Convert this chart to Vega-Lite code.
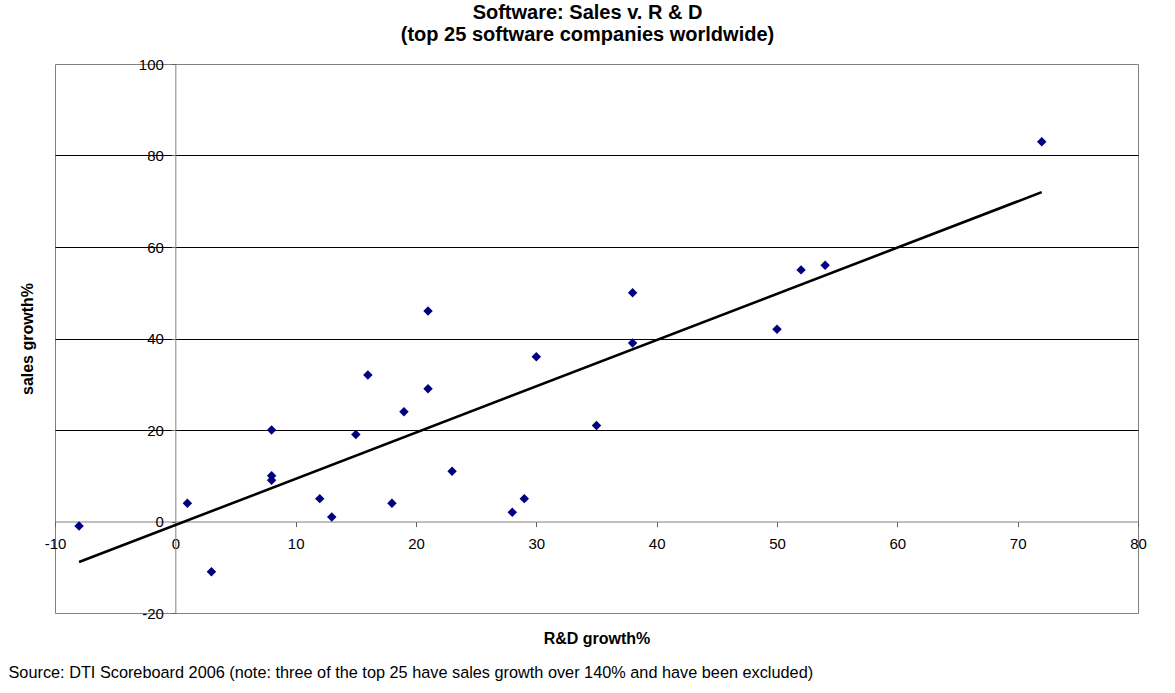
{
  "$schema": "https://vega.github.io/schema/vega-lite/v6.json",
  "width": 1083,
  "height": 549,
  "autosize": "none",
  "padding": {"left": 55, "top": 64, "right": 37, "bottom": 80},
  "background": "white",
  "config": {
    "view": {"stroke": "#808080", "strokeWidth": 1},
    "font": "Liberation Sans"
  },
  "title": {
    "text": ["Software: Sales v. R & D", "(top 25 software companies worldwide)"],
    "font": "Liberation Sans",
    "fontSize": 20,
    "fontWeight": "bold",
    "color": "black",
    "anchor": "middle",
    "frame": "group",
    "dx": -9,
    "lineHeight": 22,
    "offset": 12
  },
  "data": {
    "values": [
      {"rd": -8, "sales": -1},
      {"rd": 1, "sales": 4},
      {"rd": 3, "sales": -11},
      {"rd": 8, "sales": 20},
      {"rd": 8, "sales": 10},
      {"rd": 8, "sales": 9},
      {"rd": 12, "sales": 5},
      {"rd": 13, "sales": 1},
      {"rd": 15, "sales": 19},
      {"rd": 16, "sales": 32},
      {"rd": 18, "sales": 4},
      {"rd": 19, "sales": 24},
      {"rd": 21, "sales": 46},
      {"rd": 21, "sales": 29},
      {"rd": 23, "sales": 11},
      {"rd": 28, "sales": 2},
      {"rd": 29, "sales": 5},
      {"rd": 30, "sales": 36},
      {"rd": 35, "sales": 21},
      {"rd": 38, "sales": 50},
      {"rd": 38, "sales": 39},
      {"rd": 50, "sales": 42},
      {"rd": 52, "sales": 55},
      {"rd": 54, "sales": 56},
      {"rd": 72, "sales": 83}
    ]
  },
  "layer": [
    {
      "mark": {"type": "point", "shape": "diamond", "filled": true, "size": 90, "color": "#000080", "opacity": 1},
      "encoding": {
        "x": {
          "field": "rd",
          "type": "quantitative",
          "scale": {"domain": [-10, 80], "nice": false, "zero": false},
          "axis": {
            "values": [-10, 0, 10, 20, 30, 40, 50, 60, 70, 80],
            "labelExpr": "'' + datum.value",
            "offset": -91.5,
            "grid": false,
            "domainColor": "#808080",
            "domainWidth": 1,
            "tickColor": "#606060",
            "tickSize": 5,
            "labelFont": "Liberation Sans",
            "labelFontSize": 15,
            "labelColor": "black",
            "labelPadding": 10,
            "labelFlush": false,
            "labelOverlap": false,
            "title": "R&D growth%",
            "titleFont": "Liberation Sans",
            "titleFontSize": 16,
            "titleFontWeight": "bold",
            "titleColor": "black",
            "titleBaseline": "middle",
            "titleY": 117
          }
        },
        "y": {
          "field": "sales",
          "type": "quantitative",
          "scale": {"domain": [-20, 100], "nice": false, "zero": false},
          "axis": {
            "values": [-20, 0, 20, 40, 60, 80, 100],
            "labelExpr": "'' + datum.value",
            "offset": -120.33,
            "grid": true,
            "gridColor": {"condition": {"test": "datum.value === 20 || datum.value === 40 || datum.value === 60 || datum.value === 80", "value": "black"}, "value": "transparent"},
            "gridWidth": 1,
            "domainColor": "#808080",
            "domainWidth": 1,
            "tickColor": "#606060",
            "tickSize": 4,
            "labelFont": "Liberation Sans",
            "labelFontSize": 15,
            "labelColor": "black",
            "labelPadding": 8,
            "labelFlush": false,
            "labelOverlap": false,
            "title": "sales growth%",
            "titleFont": "Liberation Sans",
            "titleFontSize": 16,
            "titleFontWeight": "bold",
            "titleColor": "black",
            "titleAngle": -90,
            "titleBaseline": "middle",
            "titleAlign": "center",
            "titleX": -148.3,
            "titleY": 274.5
          }
        }
      }
    },
    {
      "transform": [{"regression": "sales", "on": "rd"}],
      "mark": {"type": "line", "color": "black", "strokeWidth": 2.6},
      "encoding": {
        "x": {
          "field": "rd",
          "type": "quantitative",
          "axis": {
            "orient": "bottom",
            "labels": false,
            "ticks": false,
            "domain": false,
            "grid": false,
            "title": "Source: DTI Scoreboard 2006 (note: three of the top 25 have sales growth over 140% and have been excluded)",
            "titleFont": "Liberation Sans",
            "titleFontSize": 16.3,
            "titleFontWeight": "normal",
            "titleColor": "black",
            "titleAlign": "left",
            "titleBaseline": "middle",
            "titleX": -47,
            "titleY": 59
          }
        },
        "y": {"field": "sales", "type": "quantitative", "axis": null}
      }
    }
  ],
  "resolve": {"axis": {"x": "independent", "y": "independent"}}
}
